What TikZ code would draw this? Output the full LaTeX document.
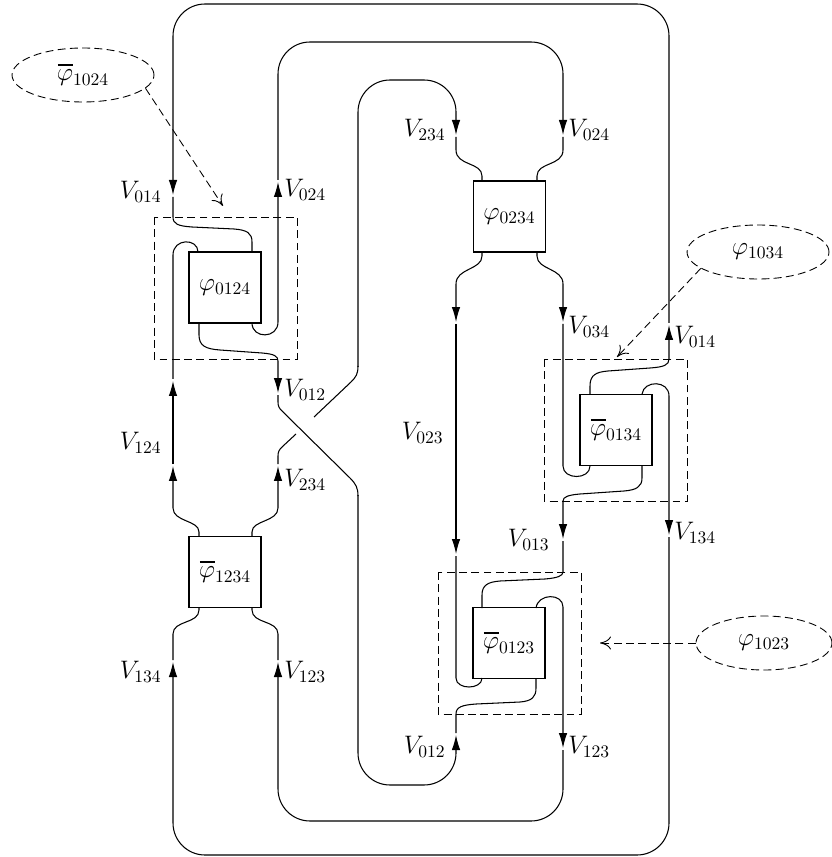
\documentclass[tikz,border=0pt]{standalone}
\usetikzlibrary{arrows.meta,shapes.geometric}
\newcommand{\obphi}{\mathord{\hbox to 0pt{\kern0.6pt\rule[2.75mm]{3.1mm}{1.2pt}\hss}\varphi}}
\begin{document}
\begin{tikzpicture}[x=0.02cm,y=-0.02cm,
  wire/.style={line width=0.6pt},
  arr/.style={-{Latex[length=3mm,width=1.7mm]}},
  loopr/.style={rounded corners=6.4mm},
  dbox/.style={dash pattern=on 4.5pt off 2.5pt,line width=0.5pt},
  mbox/.style={draw,line width=0.6pt,minimum width=1.44cm,minimum height=1.42cm,inner sep=0pt,font=\Large},
  ell/.style={draw,ellipse,dash pattern=on 4.5pt off 2.5pt,line width=0.5pt,minimum width=2.84cm,minimum height=1.08cm,inner sep=0pt,font=\Large},
  darr/.style={dash pattern=on 4.5pt off 2.5pt,line width=0.5pt,-{To[length=2.2mm,width=2.6mm]}},
  lab/.style={inner sep=0pt,font=\Large},
]
\useasboundingbox (0,0) rectangle (831,857);

% boxes
\node[mbox] (b0124) at (225,287.5) {$\varphi_{0124}$};
\node[mbox] (b0234) at (509.5,216.5) {$\varphi_{0234}$};
\node[mbox] (b0134) at (616,430) {$\obphi_{0134}$};
\node[mbox] (b0123) at (509,643) {$\obphi_{0123}$};
\node[mbox] (b1234) at (225,572) {$\obphi_{1234}$};

% dashed regions
\draw[dbox] (154,217) rectangle (297,359);
\draw[dbox] (544,359) rectangle (687,501);
\draw[dbox] (438,572) rectangle (581,714);

% ellipses and pointers
\node[ell] (e1024) at (83,75) {$\obphi_{1024}$};
\node[ell] (e1034) at (758,252) {$\varphi_{1034}$};
\node[ell,minimum width=2.72cm] (e1023) at (764,643) {$\varphi_{1023}$};
\coordinate (t1024) at (223,206);
\coordinate (t1034) at (617,357);
\coordinate (t1023) at (600,643);
\draw[darr] (e1024.-12) -- (t1024);
\draw[darr] (e1034.196) -- (t1034);
\draw[darr] (e1023.west) -- (t1023);

% W1 outer top
\draw[wire,arr] (590,394) -- (590,386) .. controls (590,375) and (596,372) .. (608,371) -- (650,368) .. controls (664,367) and (669,365) .. (669,359) -- (669,325);
\draw[wire,arr,loopr] (669,323) -- (669,4) -- (173,4) -- (173,195);
\draw[wire] (173,197) -- (173,217) .. controls (173,224) and (178,226) .. (192,227) -- (234,229) .. controls (247,230) and (252,233) .. (252,242) -- (252,252);

% W2 second loop top
\draw[wire,arr] (252,323) .. controls (252,339) and (278,339) .. (278,322) -- (278,182);
\draw[wire,arr,loopr] (278,180) -- (278,42) -- (563,42) -- (563,135);
\draw[wire] (563,137) -- (563,150) .. controls (563,166) and (537,162) .. (537,176) -- (537,181);

% W3 under strand
\draw[wire,arr] (252,536) -- (252,532) .. controls (252,520) and (278,522) .. (278,508) -- (278,466);
\draw[wire] (278,464) -- (278,456) .. controls (278,452) and (279,450) .. (282,447) -- (296,434);
\draw[wire] (314,417) -- (351,382) .. controls (356,377) and (358,374) .. (358,366);
\draw[wire,arr,loopr] (358,367) -- (358,80) -- (456,80) -- (456,135);
\draw[wire] (456,137) -- (456,150) .. controls (456,166) and (482,162) .. (482,176) -- (482,181);

% W4 over strand
\draw[wire,arr] (199,323) -- (199,335) .. controls (199,346) and (206,349) .. (220,350) -- (262,353) .. controls (274,354) and (278,356) .. (278,361) -- (278,393);
\draw[wire] (278,395) -- (278,402) .. controls (278,406) and (279,408) .. (282,411) -- (350,478) .. controls (356,484) and (358,488) .. (358,496);
\draw[wire,arr,loopr] (358,495) -- (358,785) -- (456,785) -- (456,735);
\draw[wire] (456,733) -- (456,714) .. controls (456,707) and (462,705) .. (476,704) -- (520,702) .. controls (532,701) and (536,697) .. (536,688) -- (536,678);

% W5 left column
\draw[wire,arr] (199,536) -- (199,532) .. controls (199,520) and (173,522) .. (173,508) -- (173,466);
\draw[wire,arr] (173,464) -- (173,381);
\draw[wire] (173,379) -- (173,255) .. controls (173,238) and (198,238) .. (198,252);

% W6 outer bottom
\draw[wire,arr] (642,394) .. controls (644,380) and (669,380) .. (669,396) -- (669,535);
\draw[wire,arr,loopr] (669,537) -- (669,855) -- (173,855) -- (173,662);
\draw[wire] (173,660) -- (173,634) .. controls (173,620) and (199,624) .. (199,610) -- (199,608);

% W7 second loop bottom
\draw[wire,arr] (536,608) .. controls (538,593) and (563,593) .. (563,607) -- (563,748);
\draw[wire,arr,loopr] (563,750) -- (563,821) -- (278,821) -- (278,662);
\draw[wire] (278,660) -- (278,634) .. controls (278,620) and (252,624) .. (252,610) -- (252,608);

% W8 V023
\draw[wire,arr] (482,252) -- (482,256) .. controls (482,270) and (456,268) .. (456,284) -- (456,322);
\draw[wire,arr] (456,324) -- (456,554);
\draw[wire] (456,556) -- (456,678) .. controls (456,690) and (482,690) .. (482,678);

% W9 V034
\draw[wire,arr] (537,252) -- (537,256) .. controls (537,270) and (563,268) .. (563,284) -- (563,322);
\draw[wire] (563,324) -- (563,466) .. controls (563,480) and (590,480) .. (590,466);

% W10 V013
\draw[wire,arr] (642,466) -- (642,478) .. controls (642,487) and (636,490) .. (624,491) -- (580,494) .. controls (568,495) and (563,497) .. (563,501) -- (563,539);
\draw[wire] (563,541) -- (563,572) .. controls (563,576) and (557,578) .. (545,579) -- (500,581) .. controls (488,582) and (482,585) .. (482,595) -- (482,608);

% labels
\node[lab,anchor=east] (l1) at (162,192) {$V_{014}$};
\node[lab,anchor=west] (l2) at (284,190) {$V_{024}$};
\node[lab,anchor=west] (l3) at (284,390) {$V_{012}$};
\node[lab,anchor=east] (l4) at (162,443) {$V_{124}$};
\node[lab,anchor=west] (l5) at (284,480) {$V_{234}$};
\node[lab,anchor=east] (l6) at (162,672) {$V_{134}$};
\node[lab,anchor=west] (l7) at (284,672) {$V_{123}$};
\node[lab,anchor=east] (l8) at (446,130) {$V_{234}$};
\node[lab,anchor=west] (l9) at (568,130) {$V_{024}$};
\node[lab,anchor=east] (l10) at (444,433) {$V_{023}$};
\node[lab,anchor=west] (l11) at (568,327) {$V_{034}$};
\node[lab,anchor=west] (l12) at (674,337) {$V_{014}$};
\node[lab,anchor=west] (l13) at (674,533) {$V_{134}$};
\node[lab,anchor=east] (l14) at (550,540) {$V_{013}$};
\node[lab,anchor=east] (l15) at (446,747) {$V_{012}$};
\node[lab,anchor=west] (l16) at (568,747) {$V_{123}$};
\end{tikzpicture}
\end{document}
